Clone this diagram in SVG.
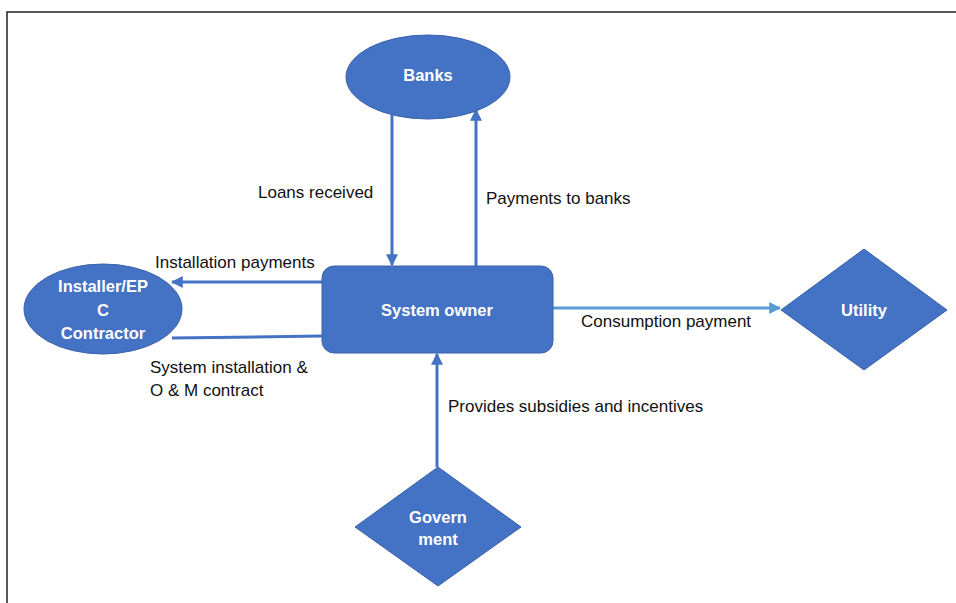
<svg xmlns="http://www.w3.org/2000/svg" width="956" height="603" viewBox="0 0 956 603">
<defs>
<style>
.node{fill:#4472C4;stroke:#3A62AB;stroke-width:1}
.nt{font-family:"Liberation Sans",Arial,sans-serif;font-size:16.5px;font-weight:bold;fill:#ffffff;text-anchor:middle}
.lbl{font-family:"Liberation Sans",Arial,sans-serif;font-size:17px;fill:#111111}
.edge{stroke:#4472C4;stroke-width:3;fill:none}
.edge2{stroke:#5B9BD5;stroke-width:3;fill:none}
</style>
<marker id="ah" viewBox="0 0 10 10" refX="9" refY="5" markerWidth="4" markerHeight="4" orient="auto" markerUnits="strokeWidth">
<path d="M0,0 L10,5 L0,10 z" fill="#4472C4"/>
</marker>
<marker id="ah2" viewBox="0 0 10 10" refX="9" refY="5" markerWidth="4" markerHeight="4" orient="auto" markerUnits="strokeWidth">
<path d="M0,0 L10,5 L0,10 z" fill="#5B9BD5"/>
</marker>
</defs>
<rect width="956" height="603" fill="#ffffff"/>
<path d="M956,12 H7 V603" fill="none" stroke="#222222" stroke-width="1.5"/>
<g id="connectors">
<line class="edge" x1="392" y1="113" x2="392" y2="265" marker-end="url(#ah)"/>
<line class="edge" x1="476" y1="266" x2="476" y2="110" marker-end="url(#ah)"/>
<line class="edge" x1="322" y1="282" x2="172" y2="282" marker-end="url(#ah)"/>
<line class="edge" x1="322" y1="336" x2="172" y2="338"/>
<line class="edge2" x1="553" y1="308" x2="780" y2="308" marker-end="url(#ah2)"/>
<line class="edge" x1="437" y1="467" x2="437" y2="354" marker-end="url(#ah)"/>
<text class="lbl" x="258" y="198">Loans received</text>
<text class="lbl" x="486" y="204">Payments to banks</text>
<text class="lbl" x="155" y="268">Installation payments</text>
<text class="lbl" x="150" y="373">System installation &amp;</text>
<text class="lbl" x="150" y="396">O &amp; M contract</text>
<text class="lbl" x="581" y="327">Consumption payment</text>
<text class="lbl" x="448" y="412">Provides subsidies and incentives</text>
</g>
<g id="banks">
<ellipse class="node" cx="428" cy="77" rx="82" ry="42"/>
<text class="nt" x="428" y="81">Banks</text>
</g>
<g id="system-owner">
<rect class="node" x="322" y="266" width="231" height="87" rx="12"/>
<text class="nt" x="437" y="316">System owner</text>
</g>
<g id="installer">
<ellipse class="node" cx="103" cy="309" rx="79" ry="45"/>
<text class="nt" x="103" y="292">Installer/EP</text>
<text class="nt" x="103" y="316">C</text>
<text class="nt" x="103" y="339">Contractor</text>
</g>
<g id="utility">
<polygon class="node" points="864,249 947,310 864,370 781,310"/>
<text class="nt" x="864" y="316">Utility</text>
</g>
<g id="government">
<polygon class="node" points="438,467 521,527 438,586 355,527"/>
<text class="nt" x="438" y="523">Govern</text>
<text class="nt" x="438" y="545">ment</text>
</g>
</svg>
